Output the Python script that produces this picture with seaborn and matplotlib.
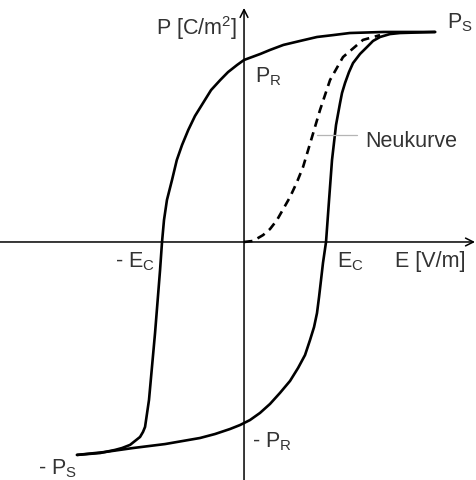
import pandas as pd
import matplotlib
matplotlib.use("Agg")
import matplotlib.pyplot as plt
import seaborn as sns

# Hysteresekurve: E in Einheiten von E_C, P in Einheiten von P_S
# absteigender Ast (von +P_S nach -P_S)
e_ab = [2.33, 1.70, 1.29, 1.085, 0.89, 0.683, 0.48, 0.317, 0.20, 0.0, -0.085,
        -0.195, -0.29, -0.402, -0.50, -0.598, -0.68, -0.756, -0.82, -0.878,
        -0.94, -0.976, -1.0, -1.024, -1.085, -1.159, -1.207, -1.232, -1.268,
        -1.329, -1.39, -1.488, -1.573, -1.756, -2.037]
p_ab = [1.005, 1.005, 1.0, 0.990, 0.981, 0.962, 0.943, 0.919, 0.90, 0.871, 0.847,
        0.813, 0.775, 0.727, 0.665, 0.603, 0.536, 0.464, 0.392, 0.297,
        0.201, 0.105, 0.0, -0.134, -0.435, -0.756, -0.885, -0.909, -0.933,
        -0.952, -0.971, -0.986, -0.995, -1.010, -1.019]

# aufsteigender Ast (von -P_S nach +P_S)
e_auf = [-2.037, -1.695, -1.354, -0.963, -0.537, -0.354, -0.171, -0.049, 0.073,
         0.195, 0.317, 0.439, 0.561, 0.659, 0.744, 0.805, 0.854, 0.890, 0.915,
         0.939, 0.963, 1.0, 1.037, 1.073, 1.122, 1.171, 1.195, 1.232, 1.280,
         1.329, 1.415, 1.5, 1.573, 1.659, 1.780, 1.902, 2.33]
p_auf = [-1.019, -1.005, -0.986, -0.967, -0.938, -0.919, -0.895, -0.876, -0.852,
         -0.818, -0.775, -0.722, -0.665, -0.603, -0.541, -0.469, -0.407, -0.340,
         -0.263, -0.182, -0.10, 0.0, 0.201, 0.392, 0.560, 0.665, 0.713, 0.761,
         0.813, 0.856, 0.900, 0.933, 0.962, 0.981, 0.995, 1.0, 1.005]

# Neukurve (gestrichelt)
e_neu = [0.0, 0.11, 0.232, 0.317, 0.402, 0.561, 0.646, 0.720, 0.829, 0.927,
         1.049, 1.207, 1.451, 1.659]
p_neu = [0.0, 0.005, 0.033, 0.062, 0.105, 0.215, 0.287, 0.359, 0.502, 0.632,
         0.775, 0.885, 0.967, 0.990]

df_ab = pd.DataFrame({"E": e_ab, "P": p_ab})
df_auf = pd.DataFrame({"E": e_auf, "P": p_auf})
df_neu = pd.DataFrame({"E": e_neu, "P": p_neu})

sns.set_theme(style="white")
plt.rcParams["font.family"] = ["Liberation Sans", "DejaVu Sans"]
plt.rcParams["mathtext.default"] = "regular"

fig = plt.figure(figsize=(4.76, 4.80), dpi=100)
ax = fig.add_axes([0, 0, 1, 1])
ax.set_xlim(-2.976, 2.829)
ax.set_ylim(-1.139, 1.158)
ax.axis("off")

# Achsen mit Pfeilen
pfeil = dict(arrowstyle="->", color="black", lw=1.1, mutation_scale=14, shrinkA=0, shrinkB=0)
ax.annotate("", xy=(2.817, 0), xytext=(-2.976, 0), arrowprops=pfeil)
ax.annotate("", xy=(0, 1.12), xytext=(0, -1.139), arrowprops=pfeil)

# Kurven
kurve = dict(sort=False, color="black", lw=1.9, ax=ax)
sns.lineplot(data=df_ab, x="E", y="P", solid_joinstyle="round", **kurve)
sns.lineplot(data=df_auf, x="E", y="P", solid_joinstyle="round", **kurve)
sns.lineplot(data=df_neu, x="E", y="P", linestyle=(0, (3.2, 2.2)), **kurve)

# Hinweislinie zur Neukurve
ax.plot([0.89, 1.378], [0.512, 0.512], color="#b5b5b5", lw=0.9)

txt = dict(fontsize=15.5, color="#333333", va="baseline")
ax.text(-0.085, 0.990, "P [C/m$^2$]", ha="right", **txt)
ax.text(2.476, 1.024, "P$_S$", ha="left", **txt)
ax.text(0.134, 0.766, "P$_R$", ha="left", **txt)
ax.text(-1.573, -0.120, "- E$_C$", ha="left", **txt)
ax.text(1.134, -0.120, "E$_C$", ha="left", **txt)
ax.text(1.841, -0.120, "E [V/m]", ha="left", **txt)
ax.text(0.098, -0.981, "- P$_R$", ha="left", **txt)
ax.text(-2.512, -1.112, "- P$_S$", ha="left", **txt)
ax.text(1.476, 0.455, "Neukurve", ha="left", **txt)

plt.savefig("out.png", dpi=100)
